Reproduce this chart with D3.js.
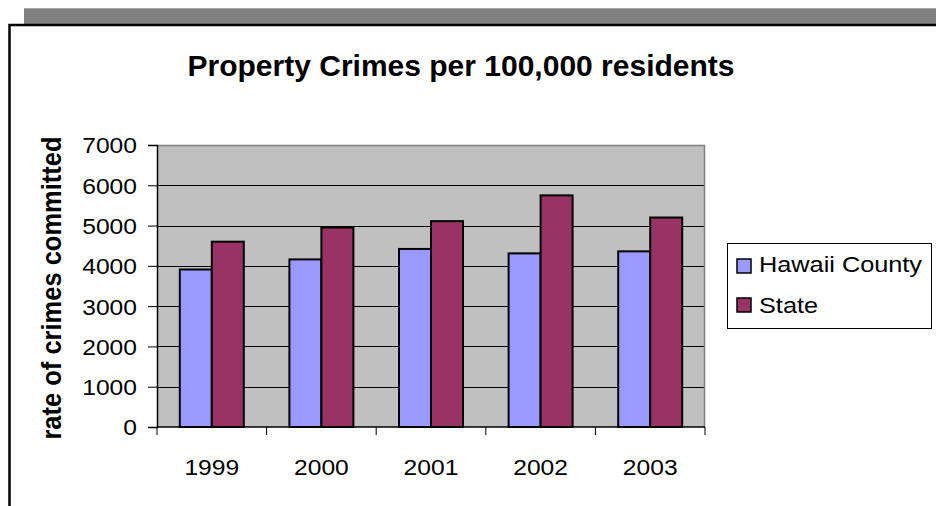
<!DOCTYPE html>
<html>
<head>
<meta charset="utf-8">
<script src="https://cdn.jsdelivr.net/npm/d3@7"></script>
<style>
  html, body { margin: 0; padding: 0; background: #ffffff; }
  svg { display: block; }
  text { font-family: "Liberation Sans", Arial, Helvetica, sans-serif; fill: #000; }
</style>
</head>
<body>
<svg id="chart" width="936" height="506"></svg>
<script>
// Property crime rates per 100,000 residents
const categories = ["1999", "2000", "2001", "2002", "2003"];
const seriesNames = ["Hawaii County", "State"];
const hawaiiCounty = [3910, 4160, 4420, 4310, 4360];
const stateRates = [4600, 4950, 5110, 5750, 5200];
const yTickValues = [0, 1000, 2000, 3000, 4000, 5000, 6000, 7000];
const seriesColors = ["#9999FF", "#993366"];

const rows = categories.map((c, i) => ({
  year: c,
  values: [
    { name: seriesNames[0], value: hawaiiCounty[i] },
    { name: seriesNames[1], value: stateRates[i] }
  ]
}));

const W = 936, H = 506;
const plot = { left: 157, top: 145, right: 705, bottom: 427 };
const stretch = 1.12;       // regular labels are drawn slightly wide
const legendStretch = 1.15;

const svg = d3.select("#chart");

// window frame: grey title band and black border
svg.append("rect").attr("x", 24).attr("y", 8).attr("width", W - 24).attr("height", 16)
  .attr("fill", "#808080");
svg.append("line").attr("x1", 24).attr("x2", W).attr("y1", 8.5).attr("y2", 8.5)
  .attr("stroke", "#a8a8a8").attr("stroke-width", 1);
svg.append("path")
  .attr("d", `M9.5,${H} L9.5,25 L${W},25`)
  .attr("fill", "none").attr("stroke", "#000").attr("stroke-width", 2.5);

// scales
const x0 = d3.scaleBand().domain(categories).range([plot.left, plot.right]).padding(0);
const x1 = d3.scaleBand().domain(seriesNames).range([0, x0.bandwidth()])
  .paddingInner(0).paddingOuter(0.7125);
const y = d3.scaleLinear().domain([0, 7000]).range([plot.bottom, plot.top]);

// plot background
svg.append("rect")
  .attr("x", plot.left).attr("y", plot.top)
  .attr("width", plot.right - plot.left).attr("height", plot.bottom - plot.top)
  .attr("fill", "#C0C0C0");

// gridlines
svg.append("g").selectAll("line")
  .data(yTickValues.filter(v => v > 0 && v < 7000))
  .join("line")
  .attr("x1", plot.left).attr("x2", plot.right)
  .attr("y1", d => Math.round(y(d)) + 0.5).attr("y2", d => Math.round(y(d)) + 0.5)
  .attr("stroke", "#000").attr("stroke-width", 1);

// plot border (top & right)
svg.append("path")
  .attr("d", `M${plot.left},${plot.top + 0.5} L${plot.right - 0.5},${plot.top + 0.5} L${plot.right - 0.5},${plot.bottom}`)
  .attr("fill", "none").attr("stroke", "#808080").attr("stroke-width", 1.5);

// bars
const groups = svg.append("g").selectAll("g")
  .data(rows).join("g")
  .attr("transform", d => `translate(${x0(d.year)},0)`);

groups.selectAll("rect")
  .data(d => d.values).join("rect")
  .attr("x", d => x1(d.name))
  .attr("y", d => y(d.value))
  .attr("width", x1.bandwidth())
  .attr("height", d => y(0) - y(d.value))
  .attr("fill", (d, i) => seriesColors[i])
  .attr("stroke", "#000").attr("stroke-width", 2);

// y axis
const yAxis = svg.append("g")
  .attr("transform", `translate(${plot.left},0)`)
  .call(d3.axisLeft(y).tickValues(yTickValues).tickSize(9).tickPadding(0).tickFormat(d3.format("d")));
yAxis.select(".domain").attr("stroke", "#000").attr("stroke-width", 1.5);
yAxis.selectAll(".tick line").attr("stroke", "#000");
yAxis.selectAll(".tick text")
  .attr("x", 0).attr("dy", "0.36em")
  .attr("transform", `translate(-20,0) scale(${stretch},1)`)
  .style("font-size", "22px").attr("text-anchor", "end");

// x axis: category labels
const xAxis = svg.append("g")
  .attr("transform", `translate(0,${plot.bottom})`)
  .call(d3.axisBottom(x0).tickSize(0).tickPadding(0));
xAxis.select(".domain").remove();
xAxis.selectAll(".tick text")
  .attr("y", 0).attr("dy", null)
  .attr("transform", `translate(0,48) scale(${stretch},1)`)
  .style("font-size", "22px");

// x axis line and boundary ticks
svg.append("line")
  .attr("x1", plot.left).attr("x2", plot.right)
  .attr("y1", plot.bottom).attr("y2", plot.bottom)
  .attr("stroke", "#000").attr("stroke-width", 1.5);
const boundaries = categories.map(c => x0(c)).concat([x0.range()[1]]);
svg.append("g").selectAll("line")
  .data(boundaries).join("line")
  .attr("x1", d => d).attr("x2", d => d)
  .attr("y1", plot.bottom).attr("y2", plot.bottom + 8)
  .attr("stroke", "#000").attr("stroke-width", 1);

// titles
svg.append("text")
  .attr("transform", `translate(461,76)`)
  .attr("text-anchor", "middle")
  .style("font-size", "30px").style("font-weight", "bold")
  .text("Property Crimes per 100,000 residents");

svg.append("text")
  .attr("transform", `translate(61,288) scale(${stretch},1) rotate(-90)`)
  .attr("text-anchor", "middle")
  .style("font-size", "25.5px").style("font-weight", "bold")
  .text("rate of crimes committed");

// legend
const legend = svg.append("g");
legend.append("rect")
  .attr("x", 727.5).attr("y", 243.5).attr("width", 204).attr("height", 85)
  .attr("fill", "#fff").attr("stroke", "#000").attr("stroke-width", 1);
const legendRows = [{ top: 259, base: 272 }, { top: 298, base: 313 }];
seriesNames.forEach((name, i) => {
  legend.append("rect")
    .attr("x", 737).attr("y", legendRows[i].top).attr("width", 14).attr("height", 14)
    .attr("fill", seriesColors[i]).attr("stroke", "#000").attr("stroke-width", 1.5);
  legend.append("text")
    .attr("transform", `translate(759,${legendRows[i].base}) scale(${legendStretch},1)`)
    .style("font-size", "22px")
    .text(name);
});
</script>
</body>
</html>
